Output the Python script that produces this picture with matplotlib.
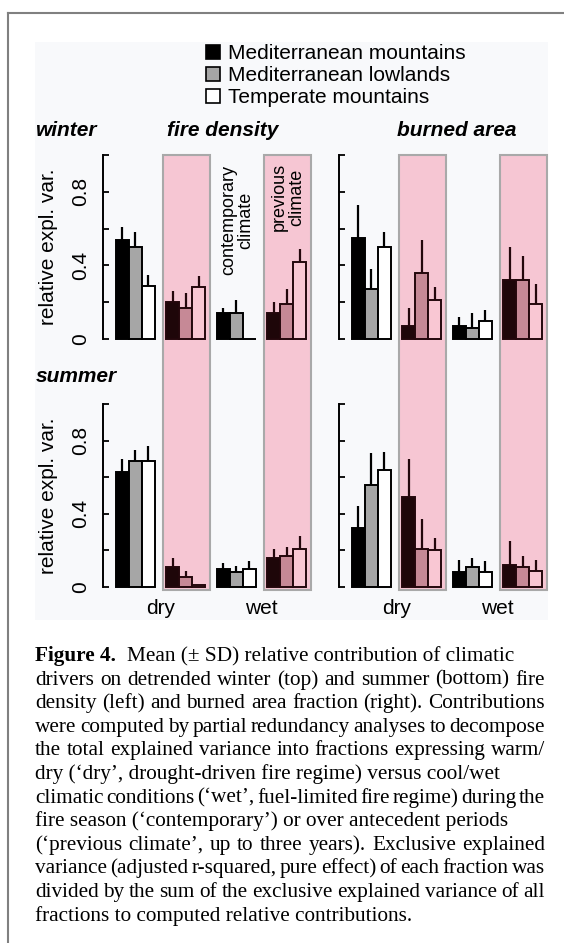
import matplotlib
matplotlib.use('Agg')
import matplotlib.pyplot as plt
import numpy as np
from matplotlib.patches import Patch, Rectangle
from matplotlib.lines import Line2D
from matplotlib.transforms import blended_transform_factory

plt.rcParams['font.family'] = 'Liberation Sans'

# regions (bars inside each group)
regions = ['Mediterranean mountains', 'Mediterranean lowlands', 'Temperate mountains']
# groups: dry contemporary, dry previous, wet contemporary, wet previous
group_labels = ['dry', 'wet']

# mean and SD of relative explained variance, [group][region]
winter_density_mean = [[0.54, 0.50, 0.29], [0.20, 0.17, 0.28], [0.14, 0.14, 0.0], [0.14, 0.19, 0.42]]
winter_density_sd = [[0.07, 0.08, 0.06], [0.06, 0.08, 0.06], [0.03, 0.07, 0.0], [0.06, 0.08, 0.07]]
winter_area_mean = [[0.55, 0.27, 0.50], [0.07, 0.36, 0.21], [0.07, 0.06, 0.10], [0.32, 0.32, 0.19]]
winter_area_sd = [[0.18, 0.11, 0.08], [0.10, 0.18, 0.07], [0.05, 0.08, 0.06], [0.18, 0.13, 0.11]]
summer_density_mean = [[0.63, 0.69, 0.69], [0.11, 0.055, 0.01], [0.10, 0.08, 0.10], [0.16, 0.17, 0.21]]
summer_density_sd = [[0.07, 0.06, 0.08], [0.05, 0.035, 0.0], [0.03, 0.035, 0.04], [0.05, 0.05, 0.07]]
summer_area_mean = [[0.32, 0.56, 0.64], [0.49, 0.21, 0.20], [0.08, 0.11, 0.08], [0.12, 0.11, 0.085]]
summer_area_sd = [[0.12, 0.17, 0.10], [0.21, 0.16, 0.07], [0.07, 0.05, 0.06], [0.13, 0.06, 0.065]]

caption = [
    ('Mean (\u00b1 SD) relative contribution of climatic', False),
    ('drivers on detrended winter (top) and summer (bottom) fire', True),
    ('density (left) and burned area fraction (right). Contributions', True),
    ('were computed by partial redundancy analyses to decompose', True),
    ('the total explained variance into fractions expressing warm/', True),
    ('dry (\u2018dry\u2019, drought-driven fire regime) versus cool/wet', False),
    ('climatic conditions (\u2018wet\u2019, fuel-limited fire regime) during the', True),
    ('fire season (\u2018contemporary\u2019) or over antecedent periods', False),
    ('(\u2018previous climate\u2019, up to three years). Exclusive explained', True),
    ('variance (adjusted r-squared, pure effect) of each fraction was', True),
    ('divided by the sum of the exclusive explained variance of all', True),
    ('fractions to computed relative contributions.', False),
]

plain_colors = ['#000000', '#a6a6a6', '#ffffff']
pink_colors = ['#1e0609', '#c68996', '#f9c7d3']
pink_edge = '#24070c'
pink_bg = '#f6c6d3'

W, H = 564, 943
fig = plt.figure(figsize=(W / 100, H / 100), dpi=100)
fig.patch.set_facecolor('white')


def fx(px):
    return px / W


def fy(py):
    return 1 - py / H


# page border (top and left only) and figure background
fig.add_artist(Line2D([fx(8), 1], [fy(13), fy(13)], color='#808080', lw=1.5))
fig.add_artist(Line2D([fx(8), fx(8)], [fy(13), 0], color='#808080', lw=1.5))
fig.add_artist(Rectangle((fx(35), fy(620)), fx(548) - fx(35), fy(42) - fy(620),
                         facecolor='#f8f9fb', edgecolor='none', zorder=-5))

gs = 3.9       # group spacing in bar widths
xlim = (-1.0, 3 * gs + 3.45)
px_w = 209
panels = {}
for col, x0 in enumerate([103, 339]):
    for row, (y0, y1) in enumerate([(155, 339), (404, 587)]):
        ax = fig.add_axes([fx(x0), fy(y1), fx(px_w), (y1 - y0) / H])
        ax.set_facecolor('none')
        ax.set_xlim(*xlim)
        ax.set_ylim(0, 1)
        for s in ['top', 'right', 'bottom']:
            ax.spines[s].set_visible(False)
        ax.spines['left'].set_linewidth(1.4)
        ax.set_xticks([])
        ax.set_yticks(np.arange(0, 1.01, 0.2))
        ax.tick_params(axis='y', direction='in', length=4, width=1.3, labelsize=15, pad=9)
        if col == 0:
            ax.set_yticklabels(['0', '', '0.4', '', '0.8', ''], rotation=90, va='center')
        else:
            ax.set_yticklabels([])
        panels[(row, col)] = ax

data = {
    (0, 0): (winter_density_mean, winter_density_sd),
    (0, 1): (winter_area_mean, winter_area_sd),
    (1, 0): (summer_density_mean, summer_density_sd),
    (1, 1): (summer_area_mean, summer_area_sd),
}

# pink columns for "previous climate" groups spanning both rows
for col in [0, 1]:
    ax = panels[(0, col)]
    tr = blended_transform_factory(ax.transData, fig.transFigure)
    for g in [1, 3]:
        left = g * gs - 0.25
        ax.add_patch(Rectangle((left, fy(590)), 3.65, fy(155) - fy(590), transform=tr,
                               facecolor=pink_bg, edgecolor='#a9a9a9', lw=1.5,
                               clip_on=False, zorder=0))

for key, (means, sds) in data.items():
    ax = panels[key]
    for g in range(4):
        pink = g % 2 == 1
        colors = pink_colors if pink else plain_colors
        edge = pink_edge if pink else 'black'
        xs = g * gs + np.arange(3)
        ax.bar(xs, means[g], width=1, align='edge', color=colors, edgecolor=edge,
               lw=1.4, zorder=3, clip_on=False)
        for x, m, s in zip(xs, means[g], sds[g]):
            if s > 0:
                ax.plot([x + 0.5, x + 0.5], [m, m + s], color=edge, lw=1.6,
                        zorder=2, solid_capstyle='butt')

# dry / wet labels under bottom panels
for col in [0, 1]:
    ax = panels[(1, col)]
    tr = blended_transform_factory(ax.transData, fig.transFigure)
    for i, lab in enumerate(group_labels):
        xc = (2 * i * gs + (2 * i + 1) * gs + 3) / 2
        ax.text(xc, fy(608), lab, transform=tr, ha='center', va='center', fontsize=15)

# annotations in the winter fire density panel
fig.text(fx(237), fy(220), 'contemporary\nclimate', rotation=90, ha='center', va='center',
         fontsize=13, multialignment='center', linespacing=1.0)
fig.text(fx(288), fy(197), 'previous\nclimate', rotation=90, ha='center', va='center',
         fontsize=13, multialignment='center', linespacing=1.0)

# y labels
for y0, y1 in [(155, 339), (404, 587)]:
    fig.text(fx(49), fy((y0 + y1) / 2), 'relative expl. var.', rotation=90,
             ha='center', va='center', fontsize=15)

# titles
fig.text(fx(36), fy(131), 'winter', fontsize=15, fontweight='bold', style='italic', va='center')
fig.text(fx(36), fy(377), 'summer', fontsize=15, fontweight='bold', style='italic', va='center')
fig.text(fx(223), fy(131), 'fire density', fontsize=15, fontweight='bold', style='italic',
         ha='center', va='center')
fig.text(fx(457), fy(131), 'burned area', fontsize=15, fontweight='bold', style='italic',
         ha='center', va='center')

# legend
handles = [Patch(facecolor=c, edgecolor='black', lw=1.2) for c in plain_colors]
fig.legend(handles, regions, loc='upper left', bbox_to_anchor=(fx(206), fy(44)),
           frameon=False, fontsize=15, borderpad=0, borderaxespad=0,
           handlelength=0.67, handleheight=0.67, handletextpad=0.38, labelspacing=0.15)

# caption, justified like the printed page
renderer = fig.canvas.get_renderer()
cap_font = dict(family='Liberation Serif', fontsize=15.3)
left, right = 35, 545


def width_px(s, **kw):
    t = fig.text(0, 0, s, **kw)
    w = t.get_window_extent(renderer).width
    t.remove()
    return w


space_w = width_px('a a', **cap_font) - width_px('aa', **cap_font)
for i, (line, justify) in enumerate(caption):
    base = 661 + 23.6 * i
    x = left
    if i == 0:
        fig.text(fx(x), fy(base), 'Figure 4.', va='baseline', fontweight='bold', **cap_font)
        x += width_px('Figure 4.', fontweight='bold', **cap_font) + 2 * space_w
    if justify:
        words = line.split(' ')
        widths = [width_px(w, **cap_font) for w in words]
        gap = (right - x - sum(widths)) / (len(words) - 1)
        for w, ww in zip(words, widths):
            fig.text(fx(x), fy(base), w, va='baseline', **cap_font)
            x += ww + gap
    else:
        fig.text(fx(x), fy(base), line, va='baseline', **cap_font)

fig.savefig('out.png', dpi=100)
